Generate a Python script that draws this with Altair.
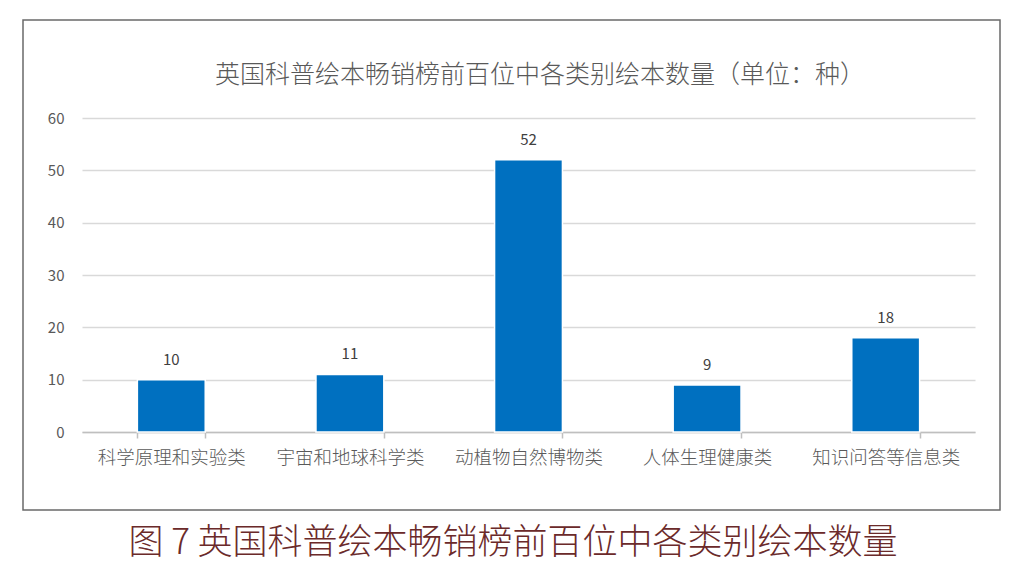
import altair as alt
import pandas as pd

categories = ["科学原理和实验类", "宇宙和地球科学类", "动植物自然博物类", "人体生理健康类", "知识问答等信息类"]
values = [10, 11, 52, 9, 18]
y_ticks = [0, 10, 20, 30, 40, 50, 60]
chart_title = ["英国科普绘本畅销榜前百位中各类别绘本数量（单位：种）"]
caption = ["图 7  英国科普绘本畅销榜前百位中各类别绘本数量"]

FONT = "Noto Sans CJK SC"
df = pd.DataFrame({"cat": categories, "val": values})

W, H = 893, 314

base = alt.Chart(df)

bars = base.mark_bar(color="#0070C0", stroke="white", strokeWidth=1.5).encode(
    x=alt.X("cat:N", sort=categories,
            scale=alt.Scale(paddingInner=0.62, paddingOuter=0.31),
            axis=alt.Axis(title=None, labelAngle=0, labelFont=FONT, labelFontSize=18.5,
                          labelFontWeight=300, labelColor="#595959", labelPadding=10,
                          ticks=True, tickBand="extent", tickSize=6, tickColor="#bfbfbf",
                          tickWidth=1.5,
                          domain=True, domainColor="#bfbfbf", domainWidth=1.5)),
    y=alt.Y("val:Q", scale=alt.Scale(domain=[0, 60]),
            axis=alt.Axis(values=y_ticks, title=None, grid=True, gridColor="#d9d9d9",
                          gridWidth=1.5, domain=False, ticks=False, labelFont=FONT,
                          labelFontSize=15, labelColor="#595959", labelPadding=18)),
)

labels = base.mark_text(font=FONT, fontSize=15, color="#404040", baseline="bottom", dy=-12).encode(
    x=alt.X("cat:N", sort=categories),
    y=alt.Y("val:Q"),
    text=alt.Text("val:Q"),
)

title_mark = alt.Chart(pd.DataFrame({"t": chart_title})).mark_text(
    font=FONT, fontSize=25, fontWeight=300, color="#595959", baseline="middle", align="center"
).encode(text="t:N", x=alt.value(458), y=alt.value(-43))

caption_mark = alt.Chart(pd.DataFrame({"t": caption})).mark_text(
    font=FONT, fontSize=35, fontWeight=300, color="#6b2a2a", baseline="middle", align="center"
).encode(text="t:N", x=alt.value(431), y=alt.value(425))

frame = alt.Chart(pd.DataFrame({"a": [0]})).mark_rect(
    fill="transparent", stroke="#6a6a6a", strokeWidth=1.5
).encode(x=alt.value(-59), x2=alt.value(918), y=alt.value(-98), y2=alt.value(392))

chart = alt.layer(frame, bars, labels, title_mark, caption_mark).properties(
    width=W, height=H,
    background="white",
    autosize=alt.AutoSizeParams(type="none"),
    padding={"left": 74, "top": 110, "right": 40, "bottom": 150},
).configure_view(strokeWidth=0, stroke=None)

chart.save("out.html", embed_options={"renderer": "svg", "actions": False})
